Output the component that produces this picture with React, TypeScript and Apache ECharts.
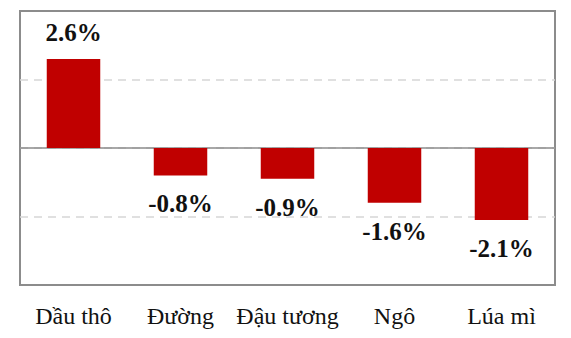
import React, { useEffect, useRef } from "react";
import * as echarts from "echarts";

const categories = ["Dầu thô", "Đường", "Đậu tương", "Ngô", "Lúa mì"];
const values = [2.6, -0.8, -0.9, -1.6, -2.1];

const SERIF = "'Liberation Serif', 'Times New Roman', serif";

export default function App() {
  const ref = useRef<HTMLDivElement>(null);
  useEffect(() => {
    if (!ref.current) return;
    const chart = echarts.init(ref.current, null, { renderer: "svg" });
    chart.setOption({
      animation: false,
      textStyle: { fontFamily: SERIF },
      grid: {
        left: 20,
        right: 16,
        top: 11,
        bottom: 53,
        show: true,
        borderColor: "#8c8c8c",
        borderWidth: 2,
      },
      xAxis: {
        type: "category",
        data: categories,
        axisLine: { onZero: true, lineStyle: { color: "#8c8c8c", width: 1.5 } },
        axisTick: { show: false },
        axisLabel: {
          color: "#111",
          fontFamily: SERIF,
          fontSize: 24,
          margin: 19,
          interval: 0,
        },
        position: "bottom",
      },
      yAxis: {
        type: "value",
        min: -4,
        max: 4,
        interval: 2,
        axisLabel: { show: false },
        axisLine: { show: false },
        axisTick: { show: false },
        splitLine: {
          showMinLine: false,
          showMaxLine: false,
          lineStyle: { color: "#d6d6d6", type: [8, 6], width: 1.5 },
        },
      },
      series: [
        {
          type: "bar",
          barWidth: "50%",
          itemStyle: { color: "#c00000" },
          data: values.map((v) => ({
            value: v,
            label: {
              show: true,
              position: v >= 0 ? "top" : "bottom",
              distance: v >= 0 ? 14 : 16,
              formatter: (p: any) => p.value.toFixed(1) + "%",
              fontFamily: SERIF,
              fontWeight: "bold",
              fontSize: 25,
              color: "#111",
            },
          })),
        },
      ],
    });
    return () => chart.dispose();
  }, []);
  return <div ref={ref} style={{ width: 571, height: 338, margin: -8 }} />;
}
